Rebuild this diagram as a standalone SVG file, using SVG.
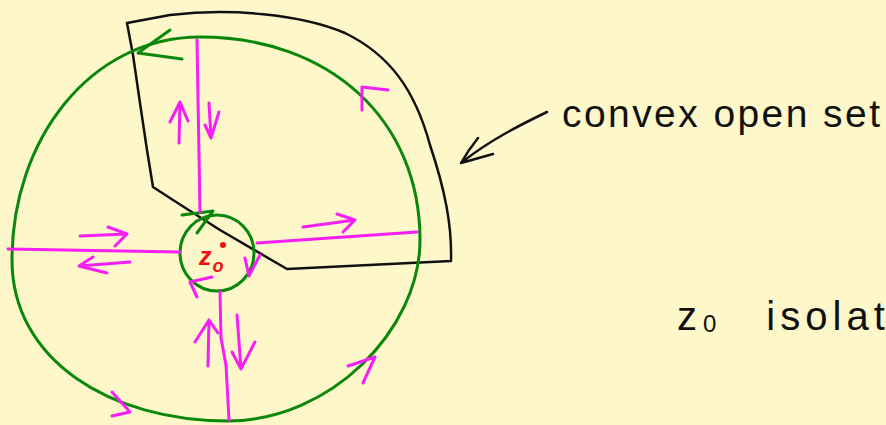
<svg xmlns="http://www.w3.org/2000/svg" width="886" height="425" viewBox="0 0 886 425">
<style>
.g{fill:none;stroke:#0b870b;stroke-width:3;stroke-linecap:round;stroke-linejoin:round}
.m{fill:none;stroke:#f51ef5;stroke-width:3;stroke-linecap:round;stroke-linejoin:round}
.k{fill:none;stroke:#111;stroke-width:2.5;stroke-linecap:round;stroke-linejoin:round}
.hand{font-family:"Liberation Sans",Arial,sans-serif;fill:#111}
</style>
<rect width="886" height="425" fill="#fdf7c9"/>
<g id="sector">
<path class="k" d="M127,23 L170,15 C230,8 300,14 345,33 C390,55 415,90 430,145 C445,190 452,225 451,261 L287,269 L220,230 L173,200 L153,187 L147,150 L140,103 L133,55 Z"/>
</g>
<g id="big-circle">
<path class="g" d="M200,37 C330,37 420,120 420,240 C420,330 330,421 228,421 C110,421 12,360 12,260 C12,140 90,37 200,37 Z"/>
<path class="g" d="M170,30 L138,53 L182,59"/>
<path class="m" d="M388,90 L362,87 L362,110"/>
<path class="m" d="M348,366 L375,357 L363,383"/>
<path class="m" d="M112,392 L130,412 L112,416"/>
</g>
<g id="small-circle">
<ellipse class="g" cx="217" cy="253" rx="37" ry="38"/>
<path class="g" d="M182,215 L213,211 L197,233"/>
<path class="m" d="M212,277 L190,282 L197,297"/>
<path class="m" d="M245,258 L249,276 L260,255"/>
</g>
<g id="cuts">
<path class="m" d="M197,40 L200,212"/>
<path class="m" d="M179,143 L180,102 M170,122 L180,102 L188,121"/>
<path class="m" d="M209,103 L211,138 L219,112 M205,125 L211,138"/>
<path class="m" d="M257,243 L417,232"/>
<path class="m" d="M303,227 L355,220 M337,214 L355,220 L343,232"/>
<path class="m" d="M8,249 L180,252"/>
<path class="m" d="M80,236 L127,234 M108,227 L127,234 L115,246"/>
<path class="m" d="M130,262 L79,266 M93,257 L79,266 L107,273"/>
<path class="m" d="M220,292 L221,338 L226,365 L229,420"/>
<path class="m" d="M208,366 L209,320 M195,342 L209,320 L218,333"/>
<path class="m" d="M237,315 L241,369 M232,352 L241,369 L255,342"/>
</g>
<g id="z0-point">
<circle cx="223" cy="245" r="3" fill="#ee1111"/>
<text x="199" y="265" font-family="Liberation Sans,Arial,sans-serif" font-size="25" font-weight="bold" font-style="italic" fill="#ee1111">z<tspan font-size="18" dy="7" dx="1">o</tspan></text>
</g>
<g id="label-convex">
<path class="k" stroke-width="3" d="M547,112 C520,125 490,140 461,163 M478,138 C470,148 465,156 461,163 L493,154"/>
<text class="hand" x="562" y="127" font-size="39" textLength="318" lengthAdjust="spacing">convex open set</text>
</g>
<g id="label-isolated">
<text class="hand" x="677" y="330" font-size="40">z<tspan font-size="24" dy="2" dx="6">0</tspan><tspan dx="50" dy="-2" letter-spacing="5">isolated</tspan></text>
</g>
</svg>
